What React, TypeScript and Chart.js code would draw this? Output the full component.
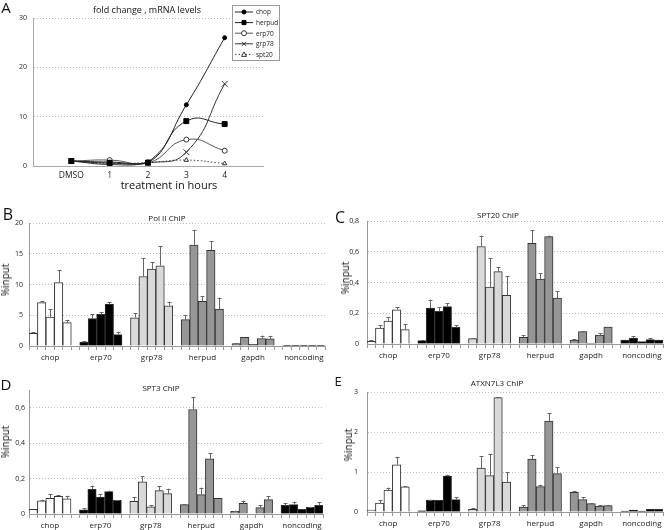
import React, { useEffect, useRef } from 'react';
import { Chart, registerables } from 'chart.js';
Chart.register(...registerables);

const FONT = "'Open Sans', 'DejaVu Sans', sans-serif";

// ---------- Panel A data ----------
const hours = ['', 'DMSO', '1', '2', '3', '4', ''];
const chopFold = [null, 1.0, 0.8, 0.8, 12.4, 26.0, null];
const herpudFold = [null, 1.0, 0.6, 0.7, 9.1, 8.5, null];
const erp70Fold = [null, 1.0, 1.2, 0.6, 5.35, 3.1, null];
const grp78Fold = [null, 1.0, 0.3, 0.6, 2.8, 16.65, null];
const spt20Fold = [null, 1.0, 0.5, 0.7, 1.2, 0.5, null];

// ---------- Bar panels data ----------
const genes = ['chop', 'erp70', 'grp78', 'herpud', 'gapdh', 'noncoding'];
const geneColors = ['#ffffff', '#000000', '#d9d9d9', '#969696', '#969696', '#000000'];

const polIIValues = [
  [2.05, 7.05, 4.7, 10.3, 3.8],
  [0.65, 4.45, 5.15, 6.8, 1.85],
  [4.6, 11.3, 12.5, 13.05, 6.55],
  [4.3, 16.4, 7.25, 15.55, 6.0],
  [0.38, 1.4, 0.27, 1.2, 1.15],
  [0.12, 0.12, 0.05, 0.12, 0.12],
];
const polIIErrors = [
  [0.25, 0.2, 1.25, 2.0, 0.45],
  [0.15, 0.7, 0.3, 0.35, 0.45],
  [0.7, 3.0, 1.1, 3.25, 0.65],
  [0.75, 2.5, 0.9, 1.5, 1.85],
  [0.05, 0, 0, 0.5, 0.5],
  [0, 0, 0, 0, 0],
];

const spt20Values = [
  [0.017, 0.104, 0.149, 0.223, 0.093],
  [0.022, 0.234, 0.212, 0.244, 0.108],
  [0.035, 0.634, 0.37, 0.471, 0.316],
  [0.043, 0.655, 0.422, 0.698, 0.298],
  [0.026, 0.08, 0.006, 0.058, 0.11],
  [0.026, 0.039, 0.015, 0.028, 0.026],
];
const spt20Errors = [
  [0.007, 0.02, 0.028, 0.015, 0.037],
  [0.003, 0.054, 0.028, 0.022, 0.013],
  [0.004, 0.071, 0.188, 0.029, 0.125],
  [0.013, 0.087, 0.038, 0.007, 0.044],
  [0.006, 0.002, 0, 0.013, 0],
  [0, 0.011, 0, 0.009, 0],
];

const spt3Values = [
  [0.026, 0.075, 0.088, 0.1, 0.085],
  [0.024, 0.139, 0.096, 0.126, 0.077],
  [0.071, 0.182, 0.041, 0.132, 0.115],
  [0.053, 0.59, 0.109, 0.312, 0.088],
  [0.015, 0.06, 0, 0.036, 0.081],
  [0.049, 0.053, 0.026, 0.038, 0.049],
];
const spt3Errors = [
  [0, 0.006, 0.023, 0.007, 0.018],
  [0.008, 0.021, 0.015, 0.006, 0.002],
  [0.023, 0.031, 0.01, 0.024, 0.028],
  [0.003, 0.068, 0.04, 0.03, 0],
  [0.004, 0.015, 0, 0.015, 0.019],
  [0.011, 0.017, 0, 0.003, 0.017],
];

const atxnValues = [
  [0.05, 0.225, 0.55, 1.18, 0.63],
  [0.03, 0.3, 0.29, 0.9, 0.31],
  [0.067, 1.1, 0.91, 2.86, 0.75],
  [0.125, 1.325, 0.633, 2.275, 0.96],
  [0.49, 0.31, 0.21, 0.15, 0.158],
  [0.025, 0.05, 0.025, 0.067, 0.067],
];
const atxnErrors = [
  [0, 0.075, 0.06, 0.2, 0.01],
  [0, 0.01, 0, 0.03, 0.065],
  [0.023, 0.29, 0.54, 0.015, 0.24],
  [0.05, 0.1, 0.05, 0.2, 0.165],
  [0.03, 0.065, 0.015, 0.017, 0.017],
  [0, 0, 0, 0, 0],
];

// ---------- helpers ----------
function buildBars(values: number[][], errors: number[][]) {
  const labels: string[] = [];
  const data: (number | null)[] = [];
  const errs: number[] = [];
  const colors: string[] = [];
  genes.forEach((g, gi) => {
    values[gi].forEach((v, ti) => {
      labels.push(ti === 2 ? g : '');
      data.push(v);
      errs.push(errors[gi][ti]);
      colors.push(geneColors[gi]);
    });
    if (gi < genes.length - 1) {
      labels.push('');
      data.push(null);
      errs.push(0);
      colors.push('rgba(0,0,0,0)');
    }
  });
  return { labels, data, errs, colors };
}

const errorBarPlugin = {
  id: 'errorBars',
  afterDatasetsDraw(chart: any) {
    const ctx = chart.ctx;
    const yScale = chart.scales.y;
    chart.data.datasets.forEach((ds: any, di: number) => {
      const errs = ds.errors;
      if (!errs) return;
      const meta = chart.getDatasetMeta(di);
      meta.data.forEach((el: any, i: number) => {
        const v = ds.data[i];
        const e = errs[i];
        if (v == null || !e) return;
        const yTop = yScale.getPixelForValue(v + e);
        const x = Math.round(el.x) + 0.5;
        ctx.save();
        ctx.strokeStyle = '#666';
        ctx.lineWidth = 1;
        ctx.beginPath();
        ctx.moveTo(x, el.y);
        ctx.lineTo(x, yTop);
        ctx.moveTo(x - 2, Math.round(yTop) + 0.5);
        ctx.lineTo(x + 2, Math.round(yTop) + 0.5);
        ctx.stroke();
        ctx.restore();
      });
    });
  },
};

const legendPlugin = {
  id: 'boxLegend',
  afterDraw(chart: any) {
    const ctx = chart.ctx;
    const bx = 232.5, by = 5.5, bw = 47, bh = 55;
    ctx.save();
    ctx.fillStyle = '#fff';
    ctx.fillRect(bx, by, bw, bh);
    ctx.strokeStyle = '#999';
    ctx.lineWidth = 1;
    ctx.strokeRect(bx, by, bw, bh);
    chart.data.datasets.forEach((ds: any, i: number) => {
      const y = 12 + i * 10.6;
      ctx.save();
      ctx.strokeStyle = ds.borderColor;
      ctx.lineWidth = 1;
      ctx.setLineDash(ds.borderDash || []);
      ctx.beginPath();
      ctx.moveTo(235, y);
      ctx.lineTo(253, y);
      ctx.stroke();
      ctx.setLineDash([]);
      const mx = 244;
      const r = Math.min(ds.pointRadius, 3);
      ctx.fillStyle = ds.pointBackgroundColor;
      ctx.strokeStyle = ds.pointBorderColor;
      ctx.beginPath();
      if (ds.pointStyle === 'circle') {
        ctx.arc(mx, y, r, 0, Math.PI * 2);
        ctx.fill();
        ctx.stroke();
      } else if (ds.pointStyle === 'rect') {
        ctx.rect(mx - 2, y - 2, 4, 4);
        ctx.fill();
        ctx.stroke();
      } else if (ds.pointStyle === 'crossRot') {
        ctx.moveTo(mx - 2, y - 2);
        ctx.lineTo(mx + 2, y + 2);
        ctx.moveTo(mx + 2, y - 2);
        ctx.lineTo(mx - 2, y + 2);
        ctx.stroke();
      } else if (ds.pointStyle === 'triangle') {
        ctx.moveTo(mx, y - 2.5);
        ctx.lineTo(mx + 2.5, y + 2);
        ctx.lineTo(mx - 2.5, y + 2);
        ctx.closePath();
        ctx.fill();
        ctx.stroke();
      }
      ctx.fillStyle = '#222';
      ctx.font = `6.5px ${FONT}`;
      ctx.textBaseline = 'middle';
      ctx.fillText(ds.label, 256, y + 0.5);
      ctx.restore();
    });
    ctx.restore();
  },
};

function commaFmt(v: number) {
  const r = Math.round(v * 10) / 10;
  return String(r).replace('.', ',');
}

function ChartCanvas({ x, y, w, h, make }: { x: number; y: number; w: number; h: number; make: () => any }) {
  const ref = useRef<HTMLCanvasElement>(null);
  useEffect(() => {
    const c = new Chart(ref.current as HTMLCanvasElement, make());
    return () => c.destroy();
  }, []);
  return (
    <canvas
      ref={ref}
      width={w}
      height={h}
      style={{ position: 'absolute', left: x, top: y, width: w, height: h }}
    />
  );
}

function lineConfig() {
  return {
    type: 'line',
    data: {
      labels: hours,
      datasets: [
        { label: 'chop', data: chopFold, borderColor: '#222', borderWidth: 1, pointStyle: 'circle', pointRadius: 2, pointBackgroundColor: '#000', pointBorderColor: '#000', tension: 0.5 },
        { label: 'herpud', data: herpudFold, borderColor: '#222', borderWidth: 1, pointStyle: 'rect', pointRadius: 3.5, pointBackgroundColor: '#000', pointBorderColor: '#000', tension: 0.5 },
        { label: 'erp70', data: erp70Fold, borderColor: '#555', borderWidth: 1, pointStyle: 'circle', pointRadius: 2.5, pointBackgroundColor: '#fff', pointBorderColor: '#333', tension: 0.5 },
        { label: 'grp78', data: grp78Fold, borderColor: '#333', borderWidth: 1, pointStyle: 'crossRot', pointRadius: 4, pointBackgroundColor: '#fff', pointBorderColor: '#333', tension: 0.5 },
        { label: 'spt20', data: spt20Fold, borderColor: '#444', borderWidth: 1, borderDash: [1.5, 2], pointStyle: 'triangle', pointRadius: 2.5, pointBackgroundColor: '#fff', pointBorderColor: '#333', tension: 0.5 },
      ],
    },
    options: {
      responsive: false,
      animation: false,
      devicePixelRatio: 1,
      layout: { padding: { top: 18, right: 17, bottom: 0, left: 0 } },
      plugins: { legend: { display: false }, tooltip: { enabled: false } },
      scales: {
        x: {
          type: 'category',
          offset: false,
          afterFit: (s: any) => { s.height = 14; },
          grid: { display: false, drawTicks: false },
          border: { display: true, color: '#aaa' },
          ticks: { autoSkip: false, maxRotation: 0, minRotation: 0, padding: 4, color: '#222', font: { family: FONT, size: 8.5 } },
        },
        y: {
          min: 0,
          max: 30,
          afterFit: (s: any) => { s.width = 33; },
          ticks: { stepSize: 10, padding: 6, color: '#222', font: { family: FONT, size: 7 } },
          grid: { color: '#bbb', drawTicks: false },
          border: { display: true, color: '#aaa', dash: [1, 2] },
        },
      },
    },
    plugins: [legendPlugin],
  };
}

function barConfig(opts: {
  values: number[][]; errors: number[][]; max: number; step: number; yWidth: number; xHeight: number;
  padTop: number; padRight: number; comma: boolean; tickPad: number; maxTick?: number;
}) {
  const b = buildBars(opts.values, opts.errors);
  return {
    type: 'bar',
    data: {
      labels: b.labels,
      datasets: [
        {
          data: b.data,
          errors: b.errs,
          backgroundColor: b.colors,
          borderColor: '#333',
          borderWidth: 1,
          barPercentage: 1,
          categoryPercentage: 1,
        },
      ],
    },
    options: {
      responsive: false,
      animation: false,
      devicePixelRatio: 1,
      layout: { padding: { top: opts.padTop, right: opts.padRight, bottom: 0, left: 0 } },
      plugins: { legend: { display: false }, tooltip: { enabled: false } },
      scales: {
        x: {
          type: 'category',
          offset: true,
          afterFit: (s: any) => { s.height = opts.xHeight; },
          grid: { display: true, offset: true, drawOnChartArea: false, drawTicks: true, tickLength: 4, color: '#999' },
          border: { display: true, color: '#999' },
          ticks: {
            autoSkip: false,
            maxRotation: 0,
            minRotation: 0,
            padding: 3,
            color: '#222',
            font: { family: FONT, size: 8 },
          },
        },
        y: {
          min: 0,
          max: opts.max,
          afterFit: (s: any) => { s.width = opts.yWidth; },
          afterBuildTicks: (s: any) => {
            if (opts.maxTick !== undefined) s.ticks = s.ticks.filter((t: any) => t.value <= opts.maxTick! + 1e-6);
          },
          ticks: {
            stepSize: opts.step,
            padding: opts.tickPad,
            color: '#222',
            font: { family: FONT, size: 7 },
            callback: (v: any) => (opts.comma ? commaFmt(Number(v)) : String(v)),
          },
          grid: { color: '#bbb', drawTicks: false },
          border: { display: true, color: '#999', dash: [1, 2] },
        },
      },
    },
    plugins: [errorBarPlugin],
  };
}

function Txt({ x, y, size, children, rotate }: { x: number; y: number; size: number; children: any; rotate?: boolean }) {
  return (
    <div
      style={{
        position: 'absolute',
        left: x,
        top: y,
        transform: `translate(-50%, -50%)${rotate ? ' rotate(-90deg)' : ''}`,
        fontSize: size,
        fontFamily: FONT,
        whiteSpace: 'nowrap',
        lineHeight: 1,
        color: '#111',
      }}
    >
      {children}
    </div>
  );
}

export default function App() {
  return (
    <div style={{ position: 'absolute', left: 0, top: 0, width: 664, height: 530, background: '#fff', overflow: 'hidden' }}>
      {/* Panel A */}
      <ChartCanvas x={0} y={0} w={280} h={180} make={lineConfig} />
      <Txt x={6} y={7} size={15}>A</Txt>
      <Txt x={147} y={9} size={9}>fold change , mRNA levels</Txt>
      <Txt x={169} y={184} size={11}>treatment in hours</Txt>

      {/* Panel B */}
      <ChartCanvas
        x={0} y={190} w={330} h={176}
        make={() => barConfig({ values: polIIValues, errors: polIIErrors, max: 20, step: 5, yWidth: 29, xHeight: 20, padTop: 33, padRight: 5, comma: false, tickPad: 6 })}
      />
      <Txt x={8} y={214} size={16}>B</Txt>
      <Txt x={167} y={218} size={8}>Pol II ChIP</Txt>
      <Txt x={5} y={280} size={10} rotate>%input</Txt>

      {/* Panel C */}
      <ChartCanvas
        x={330} y={190} w={334} h={176}
        make={() => barConfig({ values: spt20Values, errors: spt20Errors, max: 0.8, step: 0.2, yWidth: 37, xHeight: 22, padTop: 31, padRight: 1, comma: true, tickPad: 8 })}
      />
      <Txt x={340} y={217} size={16}>C</Txt>
      <Txt x={498} y={215} size={8}>SPT20 ChIP</Txt>
      <Txt x={345} y={278} size={10} rotate>%input</Txt>

      {/* Panel D */}
      <ChartCanvas
        x={0} y={365} w={330} h={165}
        make={() => barConfig({ values: spt3Values, errors: spt3Errors, max: 0.7, step: 0.2, yWidth: 29, xHeight: 16, padTop: 25, padRight: 7, comma: true, tickPad: 4, maxTick: 0.6 })}
      />
      <Txt x={6} y={384} size={15}>D</Txt>
      <Txt x={161} y={388} size={8}>SPT3 ChIP</Txt>
      <Txt x={5} y={442} size={10} rotate>%input</Txt>

      {/* Panel E */}
      <ChartCanvas
        x={330} y={365} w={334} h={165}
        make={() => barConfig({ values: atxnValues, errors: atxnErrors, max: 3, step: 1, yWidth: 37, xHeight: 18, padTop: 27, padRight: 1, comma: false, tickPad: 9 })}
      />
      <Txt x={338} y={381} size={13}>E</Txt>
      <Txt x={497} y={383} size={8}>ATXN7L3 ChIP</Txt>
      <Txt x={348} y={445} size={10} rotate>%input</Txt>
    </div>
  );
}
